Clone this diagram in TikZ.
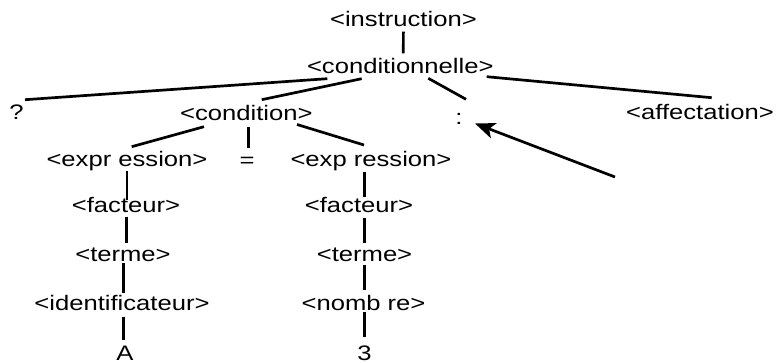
\documentclass[tikz,border=0pt]{standalone}
\usepackage{fontspec}
\setmainfont{Liberation Sans}[FakeStretch=1.22]
\usetikzlibrary{calc,arrows.meta}

\tikzset{
  sym/.style={anchor=base, inner sep=0pt, text height=15pt, text depth=4pt,
              font=\fontsize{21pt}{25pt}\selectfont},
  edge/.style={line width=2.7pt},
  pointer/.style={line width=2.7pt, -{Stealth[length=20pt,width=16pt,inset=5pt]}}
}

\begin{document}
\begin{tikzpicture}[x=1pt,y=-1pt]
  \useasboundingbox (0,0) rectangle (776,363);

  % grammar symbols of the derivation tree
  \node[sym] (instr)  at (403.4,26.7) {<instruction>};
  \node[sym] (cond)   at (400.3,73.3) {<conditionnelle>};
  \node[sym] (q)      at (16.5,120)   {?};
  \node[sym] (condi)  at (246.3,120.7) {<condition>};
  \node[sym] (colon)  at (459,125)    {:};
  \node[sym] (affect) at (700,120)    {<affectation>};
  \node[sym] (expr1)  at (127,167)    {<expr ession>};
  \node[sym] (eq)     at (247,168)    {=};
  \node[sym] (expr2)  at (371,167)    {<exp ression>};
  \node[sym] (fact1)  at (126,212.7)  {<facteur>};
  \node[sym] (fact2)  at (359,212.7)  {<facteur>};
  \node[sym] (terme1) at (123,261.7)  {<terme>};
  \node[sym] (terme2) at (364.5,261.7) {<terme>};
  \node[sym] (ident)  at (122,310)    {<identificateur>};
  \node[sym] (nombre) at (363.5,310)  {<nomb re>};
  \node[sym] (A)      at (125,360)    {A};
  \node[sym] (three)  at (364.5,360)  {3};

  % upper branches
  \draw[edge] ($(instr.base)+(0,5)$)      -- ($(cond.base)+(3,-20)$);
  \draw[edge] ($(cond.base)+(-73,5.4)$)   -- ($(q.base)+(8.5,-20.3)$);
  \draw[edge] ($(cond.base)+(-38.6,5.4)$) -- ($(condi.base)+(15.4,-21)$);
  \draw[edge] ($(cond.base)+(28,5)$)      -- ($(colon.base)+(7,-25.7)$);
  \draw[edge] ($(cond.base)+(86.4,3.4)$)  -- ($(affect.base)+(11.7,-22.3)$);

  % condition branches
  \draw[edge] ($(condi.base)+(-42.3,6)$)  -- ($(expr1.base)+(4.7,-20.3)$);
  \draw[edge] ($(condi.base)+(2,6)$)      -- ($(eq.base)+(1.3,-19.7)$);
  \draw[edge] ($(condi.base)+(50.7,3.8)$) -- ($(expr2.base)+(-7,-22)$);

  % left chain
  \draw[edge] ($(expr1.base)+(0,4)$)      -- ($(fact1.base)+(1,-12.7)$);
  \draw[edge] ($(fact1.base)+(0.7,4)$)    -- ($(terme1.base)+(3.7,-18.4)$);
  \draw[edge] ($(terme1.base)+(0.3,1.6)$) -- ($(ident.base)+(1.3,-16.7)$);
  \draw[edge] ($(ident.base)+(1.3,6.7)$)  -- ($(A.base)+(-1.7,-20)$);

  % right chain
  \draw[edge] ($(expr2.base)+(-6.7,5)$)   -- ($(fact2.base)+(5.3,-15.7)$);
  \draw[edge] ($(fact2.base)+(5.3,5.3)$)  -- ($(terme2.base)+(-0.2,-18.7)$);
  \draw[edge] ($(terme2.base)+(-0.2,3.3)$) -- ($(nombre.base)+(0.8,-20)$);
  \draw[edge] ($(nombre.base)+(0.8,2)$)   -- ($(three.base)+(-0.2,-23)$);

  % pointer to the colon
  \coordinate (tail) at (615,177);
  \draw[pointer] (tail) -- ($(colon.base)+(16,-1.5)$);
\end{tikzpicture}
\end{document}
